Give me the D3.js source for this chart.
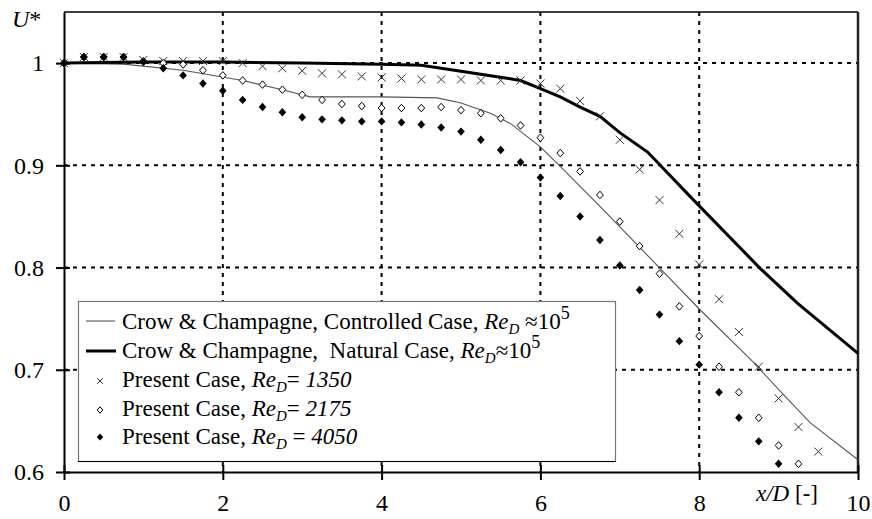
<!DOCTYPE html>
<html>
<head>
<meta charset="utf-8">
<script src="https://cdn.jsdelivr.net/npm/d3@7"></script>
</head>
<body style="margin:0">
<script>
// Re_D = 1350, 2175, 4050 measured points (x/D step 0.25)
const x1350 = d3.range(0, 9.51, 0.25);
const u1350 = [1.0, 1.006, 1.006, 1.006, 1.003, 1.002, 1.002, 1.002, 1.002, 1.0, 0.997, 0.995,
  0.9925, 0.990, 0.989, 0.987, 0.986, 0.985, 0.984, 0.984, 0.984, 0.983, 0.983, 0.983,
  0.980, 0.975, 0.963, 0.948, 0.925, 0.896, 0.866, 0.833, 0.803, 0.769, 0.737, 0.703, 0.672, 0.644, 0.620];

const x2175 = d3.range(0, 9.26, 0.25);
const u2175 = [1.0, 1.006, 1.006, 1.006, 1.002, 1.0, 0.9987, 0.993, 0.988, 0.983, 0.979, 0.974,
  0.969, 0.964, 0.960, 0.958, 0.956, 0.956, 0.956, 0.957, 0.954, 0.951, 0.946, 0.939,
  0.927, 0.912, 0.894, 0.871, 0.845, 0.821, 0.794, 0.762, 0.733, 0.703, 0.678, 0.653, 0.626, 0.608];

const x4050 = d3.range(0, 9.01, 0.25);
const u4050 = [1.0, 1.006, 1.006, 1.006, 1.001, 0.995, 0.988, 0.980, 0.973, 0.964, 0.957, 0.952,
  0.947, 0.945, 0.944, 0.943, 0.943, 0.942, 0.940, 0.937, 0.933, 0.925, 0.915, 0.903,
  0.888, 0.870, 0.850, 0.827, 0.802, 0.778, 0.754, 0.728, 0.705, 0.678, 0.653, 0.630, 0.608];

// Crow & Champagne curves
const xNatural = [0, 1, 2, 3, 4, 4.5, 5, 5.6, 5.75, 6, 6.25, 6.5, 6.75, 7, 7.35, 7.93, 8.77, 9.24, 10];
const uNatural = [1.0, 1.001, 1.001, 1.0, 0.999, 0.998, 0.992, 0.985, 0.983, 0.975, 0.967, 0.957, 0.948, 0.932, 0.913, 0.866, 0.799, 0.765, 0.716];

const xControlled = [0, 0.75, 1.5, 2.25, 2.75, 3.1, 4.0, 4.7, 5.0, 5.37, 5.62, 6.0, 6.25, 6.71, 7.51, 8.02, 8.65, 9.07, 9.4, 10];
const uControlled = [1.0, 0.999, 0.993, 0.983, 0.974, 0.967, 0.967, 0.966, 0.961, 0.951, 0.941, 0.918, 0.899, 0.863, 0.799, 0.758, 0.710, 0.675, 0.648, 0.612];

const xTicks = [0, 2, 4, 6, 8, 10];
const yTicks = [0.6, 0.7, 0.8, 0.9, 1];
const xGrid = [2, 4, 6, 8];
const yGrid = [0.7, 0.8, 0.9, 1];

const serif = "Liberation Serif";

const W = 872, H = 519;
const margin = { top: 12, right: 14, bottom: 47, left: 64 };
const width = W - margin.left - margin.right;
const height = H - margin.top - margin.bottom;

const svg = d3.select("body")
  .append("svg")
    .attr("width", W)
    .attr("height", H)
    .attr("font-family", serif);

const g = svg.append("g")
  .attr("transform", `translate(${margin.left}, ${margin.top})`);

const x = d3.scaleLinear().domain([0, 10]).range([0, width]);
const y = d3.scaleLinear().domain([0.6, 1.05]).range([height, 0]);

// dotted grid
g.append("g")
  .selectAll("line")
  .data(xGrid)
  .enter()
  .append("line")
    .attr("x1", d => x(d)).attr("x2", d => x(d))
    .attr("y1", 0).attr("y2", height)
    .attr("stroke", "#000").attr("stroke-width", 2)
    .attr("stroke-dasharray", "4,5");

g.append("g")
  .selectAll("line")
  .data(yGrid)
  .enter()
  .append("line")
    .attr("x1", 0).attr("x2", width)
    .attr("y1", d => y(d)).attr("y2", d => y(d))
    .attr("stroke", "#000").attr("stroke-width", 2)
    .attr("stroke-dasharray", "4,5");

// frame top / right
g.append("line").attr("x1", 0).attr("x2", width).attr("y1", 0).attr("y2", 0)
  .attr("stroke", "#000").attr("stroke-width", 1.5);
g.append("line").attr("x1", width).attr("x2", width).attr("y1", 0).attr("y2", height)
  .attr("stroke", "#222").attr("stroke-width", 2.5);

// axes
const xAxisCall = d3.axisBottom(x).tickValues(xTicks).tickSizeInner(8).tickSizeOuter(0).tickPadding(14);
const yAxisCall = d3.axisLeft(y).tickValues(yTicks).tickSizeInner(8).tickSizeOuter(0).tickPadding(12)
  .tickFormat(d => d === 1 ? "1" : d3.format(".1f")(d));

const xAxis = g.append("g")
  .attr("class", "x-axis")
  .attr("transform", `translate(0, ${height})`)
  .call(xAxisCall);

const yAxis = g.append("g")
  .attr("class", "y-axis")
  .call(yAxisCall);

[xAxis, yAxis].forEach(a => {
  a.attr("font-family", serif).attr("font-size", 24);
  a.select(".domain").attr("stroke", "#000").attr("stroke-width", 2);
  a.selectAll(".tick line").attr("stroke", "#000").attr("stroke-width", 2);
  a.selectAll(".tick text")
    .attr("font-family", serif)
    .attr("font-size", 24)
    .attr("fill", "#000");
});
xAxis.selectAll(".tick line").attr("y1", -7);
yAxis.selectAll(".tick line").attr("x1", 6);

// curves
const line = d3.line().x(d => x(d[0])).y(d => y(d[1]));

g.append("path")
  .datum(d3.zip(xControlled, uControlled))
  .attr("fill", "none").attr("stroke", "#555").attr("stroke-width", 1.1)
  .attr("d", line);

g.append("path")
  .datum(d3.zip(xNatural, uNatural))
  .attr("fill", "none").attr("stroke", "#000").attr("stroke-width", 3)
  .attr("d", line);

// markers
const crossPath = s => `M${-s},${-s}L${s},${s}M${s},${-s}L${-s},${s}`;
const diamondPath = (w, h) => `M0,${-h}L${w},0L0,${h}L${-w},0Z`;

g.append("g").selectAll("path")
  .data(d3.zip(x1350, u1350))
  .enter()
  .append("path")
    .attr("transform", d => `translate(${x(d[0])},${y(d[1])})`)
    .attr("d", crossPath(4))
    .attr("stroke", "#333").attr("stroke-width", 1).attr("fill", "none");

g.append("g").selectAll("path")
  .data(d3.zip(x2175, u2175))
  .enter()
  .append("path")
    .attr("transform", d => `translate(${x(d[0])},${y(d[1])})`)
    .attr("d", diamondPath(3.4, 3.8))
    .attr("stroke", "#000").attr("stroke-width", 1).attr("fill", "#fff");

g.append("g").selectAll("path")
  .data(d3.zip(x4050, u4050))
  .enter()
  .append("path")
    .attr("transform", d => `translate(${x(d[0])},${y(d[1])})`)
    .attr("d", diamondPath(3.8, 4.2))
    .attr("fill", "#000");

// legend
const legend = svg.append("g");
legend.append("rect")
  .attr("x", 78.5).attr("y", 301.5)
  .attr("width", 537).attr("height", 160)
  .attr("fill", "#fff").attr("stroke", "#777").attr("stroke-width", 1.2);
legend.append("line")
  .attr("x1", 78).attr("x2", 616).attr("y1", 461.5).attr("y2", 461.5)
  .attr("stroke", "#000").attr("stroke-width", 1.2);

const rowY = [329, 358, 387, 416, 444];

legend.append("line").attr("x1", 86).attr("x2", 115).attr("y1", rowY[0] - 8).attr("y2", rowY[0] - 8)
  .attr("stroke", "#555").attr("stroke-width", 1.1);
legend.append("line").attr("x1", 86).attr("x2", 116).attr("y1", rowY[1] - 7).attr("y2", rowY[1] - 7)
  .attr("stroke", "#000").attr("stroke-width", 3);
legend.append("path").attr("transform", `translate(100,${rowY[2] - 6})`)
  .attr("d", crossPath(2.8)).attr("stroke", "#333").attr("fill", "none");
legend.append("path").attr("transform", `translate(100,${rowY[3] - 6})`)
  .attr("d", diamondPath(2.8, 3.2)).attr("stroke", "#000").attr("fill", "#fff");
legend.append("path").attr("transform", `translate(100,${rowY[4] - 7})`)
  .attr("d", diamondPath(3.2, 3.6)).attr("fill", "#000");

const legendRows = [
  { pre: "Crow & Champagne, Controlled Case, ", post: " \u224810", sup: "5", num: null },
  { pre: "Crow & Champagne,\u00a0 Natural Case, ", post: "\u224810", sup: "5", num: null },
  { pre: "Present Case, ", post: "= ", sup: null, num: "1350" },
  { pre: "Present Case, ", post: "= ", sup: null, num: "2175" },
  { pre: "Present Case, ", post: " = ", sup: null, num: "4050" }
];

legendRows.forEach((r, i) => {
  const t = legend.append("text")
    .attr("x", 122).attr("y", rowY[i])
    .attr("font-family", serif)
    .attr("font-size", 23);
  t.append("tspan").text(r.pre);
  t.append("tspan").attr("font-style", "italic").text("Re");
  t.append("tspan").attr("font-style", "italic").attr("font-size", 15).attr("dy", 5).text("D");
  t.append("tspan").attr("dy", -5).text(r.post);
  if (r.sup) {
    t.append("tspan").attr("font-size", 18).attr("dy", -10).text(r.sup);
  }
  if (r.num) {
    t.append("tspan").attr("font-style", "italic").text(r.num);
  }
});

// axis titles
svg.append("text")
  .attr("x", 12).attr("y", 27)
  .attr("font-family", serif)
  .attr("font-size", 24)
  .call(t => {
    t.append("tspan").attr("font-style", "italic").text("U");
    t.append("tspan").text("*");
  });

svg.append("text")
  .attr("x", 756).attr("y", 501)
  .attr("font-family", serif)
  .attr("font-size", 23)
  .call(t => {
    t.append("tspan").attr("font-style", "italic").text("x/D");
    t.append("tspan").text(" [-]");
  });
</script>
</body>
</html>
